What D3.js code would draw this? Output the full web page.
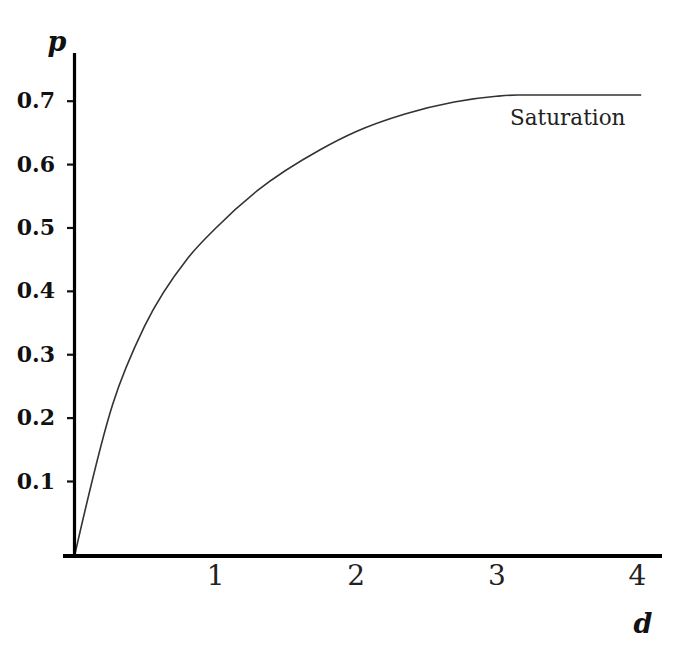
<!DOCTYPE html>
<meta charset="utf-8">
<style>
body { margin: 0; background: #fff; }
svg { display: block; }
.ylab text { font: bold 22px "DejaVu Serif", serif; fill: #111; }
.xlab text { font: 28px "DejaVu Serif", serif; fill: #222; }
</style>
<svg width="694" height="647"></svg>
<script src="https://cdn.jsdelivr.net/npm/d3@7/dist/d3.min.js"></script>
<script>
// curve: distance d vs probability p
var dVals = [0, 0.27, 0.5, 0.8, 1.0, 1.3, 1.75, 2.0, 2.35, 2.7, 3.0, 3.15, 4.03];
var pVals = [0, 0.22, 0.345, 0.450, 0.498, 0.558, 0.623, 0.651, 0.679, 0.698, 0.707, 0.709, 0.709];
var xTicks = [1, 2, 3, 4];
var yTicks = [0.1, 0.2, 0.3, 0.4, 0.5, 0.6, 0.7];
var note = "Saturation";

var svg = d3.select("svg");

var x = d3.scaleLinear().domain([0, 4]).range([74.5, 637]);
// bottom band is a bit taller than the others in the original
var y = d3.scaleLinear().domain([0, 0.1, 0.7]).range([556, 481, 100.7]);

var pts = dVals.map(function(d, i) { return [d, pVals[i]]; });

// curve
var line = d3.line()
    .x(function(d) { return x(d[0]); })
    .y(function(d) { return y(d[1]); })
    .curve(d3.curveMonotoneX);

svg.append("path")
    .datum(pts)
    .attr("d", line)
    .attr("fill", "none")
    .attr("stroke", "#333")
    .attr("stroke-width", 1.6);

// y ticks + labels
var yAxis = svg.append("g")
    .attr("class", "ylab")
    .attr("transform", "translate(74,0)")
    .call(d3.axisLeft(y).tickValues(yTicks).tickSize(7).tickPadding(12)
      .tickFormat(d3.format(".1f")));
yAxis.select(".domain").remove();
yAxis.selectAll(".tick line").attr("stroke", "#111").attr("stroke-width", 2.2);

// x labels, no tick marks
var xAxis = svg.append("g")
    .attr("class", "xlab")
    .attr("transform", "translate(0,556)")
    .call(d3.axisBottom(x).tickValues(xTicks).tickSize(0).tickPadding(9)
      .tickFormat(d3.format("d")));
xAxis.select(".domain").remove();
xAxis.selectAll("text").attr("dy", "0.72em");

// axis lines
svg.append("line")
    .attr("x1", x(0)).attr("x2", x(0))
    .attr("y1", 53).attr("y2", 557.5)
    .attr("stroke", "#000").attr("stroke-width", 3.2);
svg.append("line")
    .attr("x1", 63).attr("x2", 662)
    .attr("y1", 556).attr("y2", 556)
    .attr("stroke", "#000").attr("stroke-width", 4);

// axis titles
svg.append("text")
    .attr("x", 57).attr("y", 51)
    .attr("text-anchor", "middle")
    .style("font", "italic bold 27px 'DejaVu Serif', serif")
    .attr("fill", "#111")
    .text("p");
svg.append("text")
    .attr("x", 643).attr("y", 633)
    .attr("text-anchor", "middle")
    .style("font", "italic bold 27px 'DejaVu Serif', serif")
    .attr("fill", "#111")
    .text("d");

svg.append("text")
    .attr("x", 510).attr("y", 125)
    .style("font", "21.5px 'DejaVu Serif', serif")
    .attr("fill", "#222")
    .text(note);
</script>
